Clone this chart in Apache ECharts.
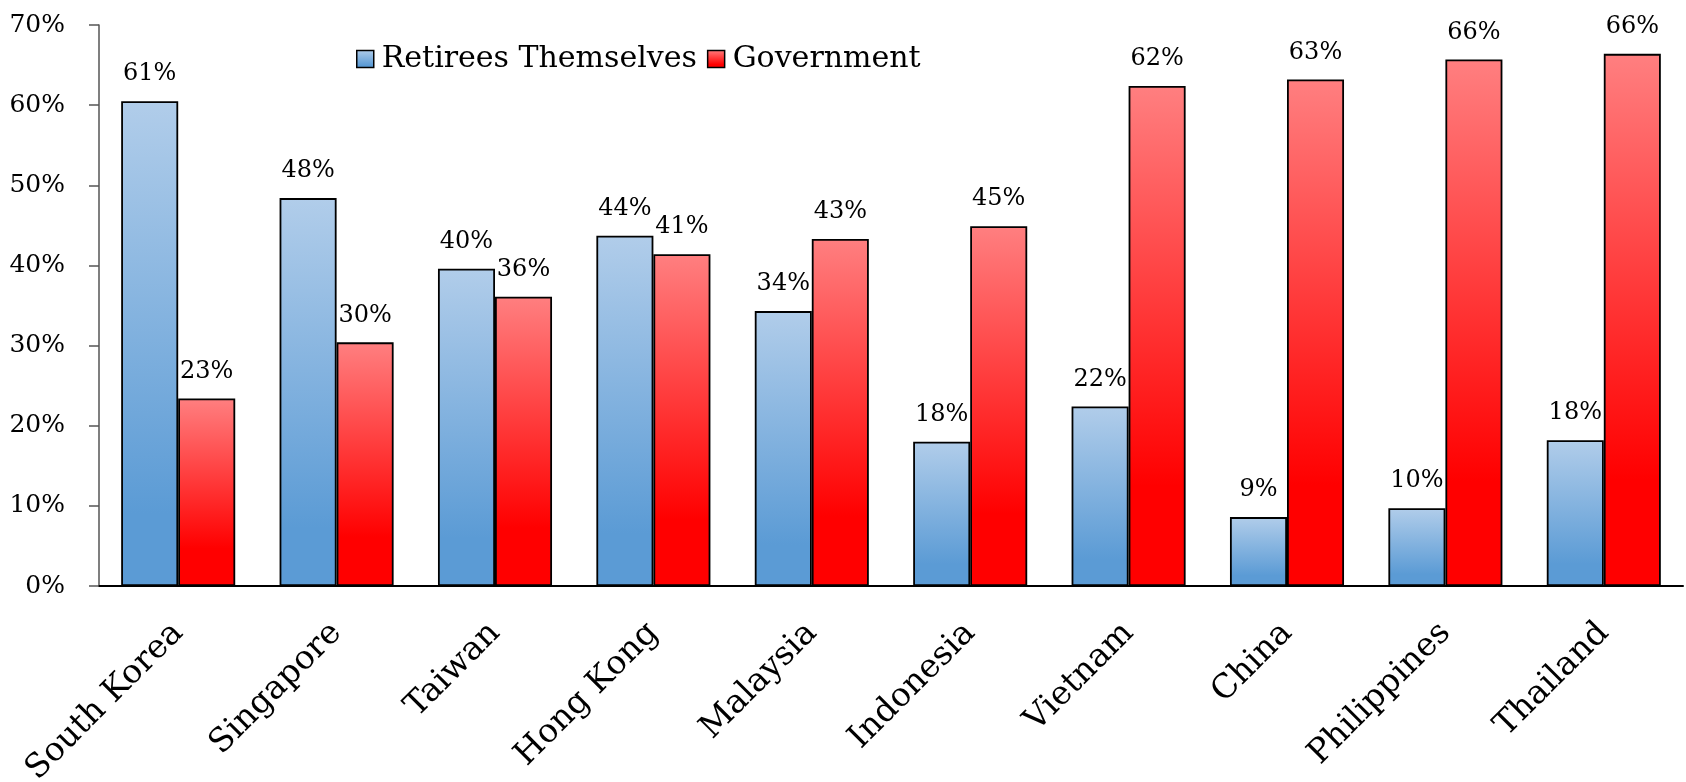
<!DOCTYPE html>
<html><head><meta charset="utf-8">
<script src="https://cdn.jsdelivr.net/npm/echarts@6/dist/echarts.min.js"></script>
<style>html,body{margin:0;padding:0;background:#fff}#c{width:1686px;height:782px}</style>
</head><body><div id="c"></div>
<script>
const categories = ["South Korea","Singapore","Taiwan","Hong Kong","Malaysia","Indonesia","Vietnam","China","Philippines","Thailand"];
const retirees = [60.5, 48.4, 39.6, 43.7, 34.3, 18.0, 22.4, 8.6, 9.7, 18.2];
const government = [23.4, 30.4, 36.1, 41.4, 43.3, 44.9, 62.4, 63.2, 65.7, 66.4];
const yTicks = {min: 0, max: 70, interval: 10};
const FONT = "DejaVu Serif";

const blueGrad = new echarts.graphic.LinearGradient(0,0,0,1,[{offset:0,color:'#b1cdea'},{offset:0.85,color:'#5b9bd5'},{offset:1,color:'#5b9bd5'}]);
const redGrad = new echarts.graphic.LinearGradient(0,0,0,1,[{offset:0,color:'#ff7f80'},{offset:0.8,color:'#ff0000'},{offset:1,color:'#ff0000'}]);

const chart = echarts.init(document.getElementById('c'));
const label = {show:true, position:'top', distance:15, color:'#000', fontFamily:FONT, fontSize:24,
  formatter: p => Math.round(p.value) + '%'};
chart.setOption({
  animation:false,
  textStyle:{fontFamily:FONT},
  grid:{left:99, right:3, top:25, bottom:196, containLabel:false, outerBoundsMode:'none'},
  legend:{
    left:351, top:39, itemWidth:17, itemHeight:17, itemGap:10,
    textStyle:{fontFamily:FONT, fontSize:30, color:'#000', padding:[0,0,0,3]},
    data:[
      {name:'Retirees Themselves', icon:'rect', itemStyle:{color:blueGrad, borderColor:'#000', borderWidth:1.5}},
      {name:'Government', icon:'rect', itemStyle:{color:redGrad, borderColor:'#000', borderWidth:1.5}}
    ]
  },
  xAxis:{
    type:'category', data:categories,
    axisLine:{lineStyle:{color:'#000', width:2}},
    axisTick:{show:false},
    axisLabel:{rotate:45, interval:0, color:'#000', fontFamily:FONT, fontSize:33, margin:42}
  },
  yAxis:{
    type:'value', min:yTicks.min, max:yTicks.max, interval:yTicks.interval,
    splitLine:{show:false},
    axisLine:{show:true, lineStyle:{color:'#555', width:1.5}},
    axisTick:{show:true, length:10, lineStyle:{color:'#555', width:1.5}},
    axisLabel:{color:'#000', fontFamily:FONT, fontSize:25, margin:34, formatter:v=>v+'%'}
  },
  series:[
    {name:'Retirees Themselves', type:'bar', data:retirees, barWidth:'36%', barGap:'0%',
     itemStyle:{color:blueGrad, borderColor:'#000', borderWidth:1.8}, label:label},
    {name:'Government', type:'bar', data:government, barWidth:'36%', barGap:'0%',
     itemStyle:{color:redGrad, borderColor:'#000', borderWidth:1.8}, label:label}
  ]
});
</script></body></html>
